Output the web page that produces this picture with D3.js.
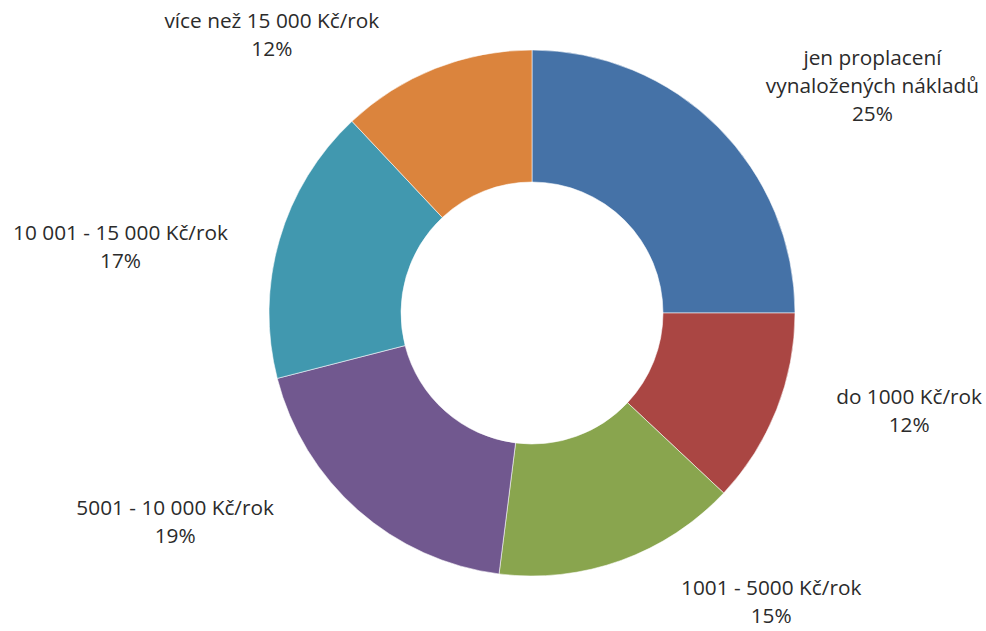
<!DOCTYPE html>
<html>
<head>
<meta charset="utf-8">
<script src="https://cdn.jsdelivr.net/npm/d3@7"></script>
<style>
  html, body { margin: 0; padding: 0; background: #fff; }
  svg { display: block; }
</style>
</head>
<body>
<svg id="chart" width="986" height="631"></svg>
<script>
// ---- data ----
const categories = [
  ["jen proplacení", "vynaložených nákladů"],
  ["do 1000 Kč/rok"],
  ["1001 - 5000 Kč/rok"],
  ["5001 - 10 000 Kč/rok"],
  ["10 001 - 15 000 Kč/rok"],
  ["více než 15 000 Kč/rok"]
];
const values = [25, 12, 15, 19, 17, 12];
const percentLabels = ["25%", "12%", "15%", "19%", "17%", "12%"];
const colors = ["#4572A7", "#AA4643", "#89A54E", "#71588F", "#4198AF", "#DB843D"];

// ---- layout (not data) ----
const W = 986, H = 631;
const cx = 532, cy = 313;
const outerR = 263, innerR = 131;
const labelR = 340;
const lineH = 28;
// fine adjustments of label blocks relative to their polar anchor
const labelNudge = [[100, 13], [61, -27], [124, -31], [-132, -46], [-85, 29], [-135, 38]];

const svg = d3.select("#chart");
const g = svg.append("g").attr("transform", `translate(${cx},${cy})`);

const pie = d3.pie().sort(null).value(d => d)(values);
const arc = d3.arc().innerRadius(innerR).outerRadius(outerR);
const labelArc = d3.arc().innerRadius(labelR).outerRadius(labelR);

g.selectAll("path.slice")
  .data(pie)
  .join("path")
  .attr("class", "slice")
  .attr("d", arc)
  .attr("fill", (d, i) => colors[i])
  .attr("stroke", "#ffffff")
  .attr("stroke-opacity", 0.55)
  .attr("stroke-width", 1);

const labels = g.selectAll("text.lbl")
  .data(pie)
  .join("text")
  .attr("class", "lbl")
  .attr("text-anchor", "middle")
  .attr("font-family", "'Open Sans', sans-serif")
  .attr("font-size", 20.8)
  .attr("fill", "#2b2b2b")
  .attr("transform", (d, i) => {
    const [x, y] = labelArc.centroid(d);
    return `translate(${x + labelNudge[i][0]},${y + labelNudge[i][1]})`;
  });

labels.each(function(d, i) {
  const lines = categories[i].concat([percentLabels[i]]);
  const n = lines.length;
  const t = d3.select(this);
  lines.forEach((ln, k) => {
    t.append("tspan")
      .attr("x", 0)
      .attr("y", (k - (n - 1) / 2) * lineH + 7)
      .text(ln);
  });
});
</script>
</body>
</html>
